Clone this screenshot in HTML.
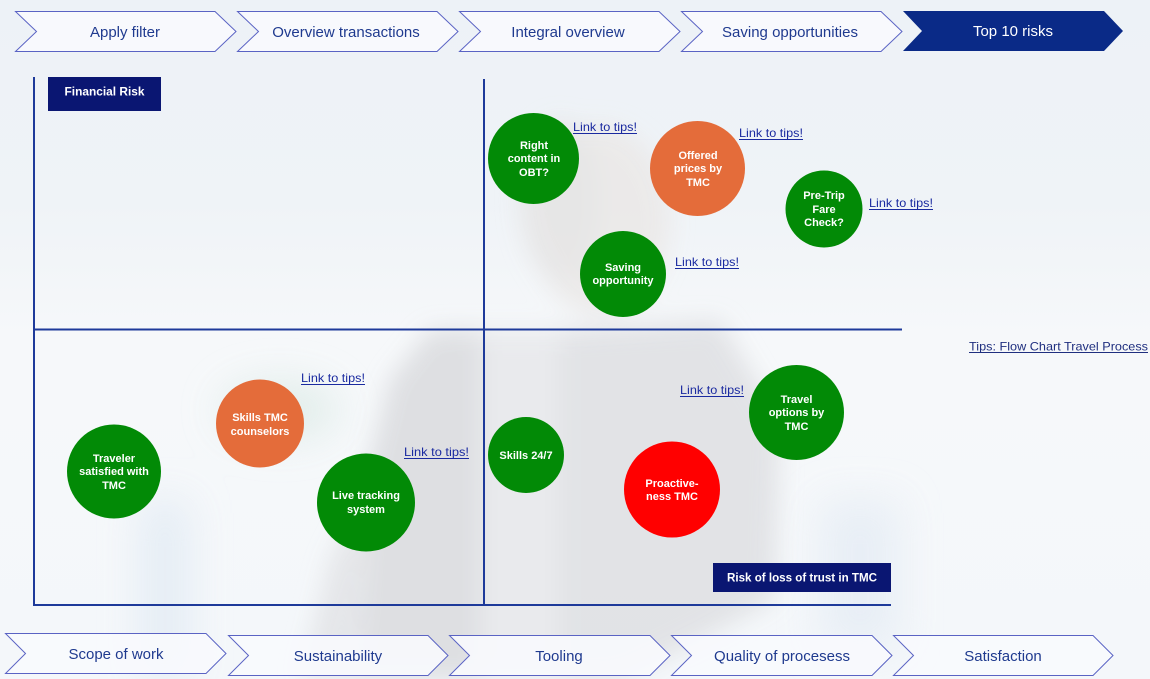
<!DOCTYPE html>
<html><head><meta charset="utf-8"><style>
html,body{margin:0;padding:0;width:1150px;height:679px;overflow:hidden;background:#f3f6f9}
svg{display:block}
</style></head><body>
<svg width="1150" height="679" viewBox="0 0 1150 679" xmlns="http://www.w3.org/2000/svg" font-family="Liberation Sans, Arial, sans-serif">
<defs>
<filter id="b20" x="-50%" y="-50%" width="200%" height="200%"><feGaussianBlur stdDeviation="20"/></filter>
<filter id="b12" x="-50%" y="-50%" width="200%" height="200%"><feGaussianBlur stdDeviation="12"/></filter>
<linearGradient id="bg" x1="0" y1="0" x2="0" y2="1">
<stop offset="0" stop-color="#edf2f7"/><stop offset="0.3" stop-color="#eff3f7"/><stop offset="0.5" stop-color="#f6f8fa"/><stop offset="1" stop-color="#f4f7fa"/>
</linearGradient>
</defs>
<!-- background photo approximation -->
<rect width="1150" height="679" fill="url(#bg)"/>
<g filter="url(#b20)" opacity="0.85">
<ellipse cx="280" cy="410" rx="60" ry="30" fill="#dfece8"/>
<rect x="140" y="500" width="50" height="180" fill="#e2ebf4"/>
<rect x="820" y="500" width="80" height="150" fill="#e6edf5"/>
</g>
<g filter="url(#b12)" opacity="0.9">
<ellipse cx="600" cy="220" rx="70" ry="95" fill="#ebe9e8"/>
<ellipse cx="560" cy="200" rx="40" ry="80" fill="#e6e5e5"/>
<path d="M360 679 L365 480 L390 380 L430 330 L480 330 L480 679 Z" fill="#dcdde0"/>
<path d="M480 330 L560 330 L560 679 L480 679 Z" fill="#e8e9ec"/>
<path d="M560 330 L720 320 L780 420 L775 600 L700 640 L620 679 L560 679 Z" fill="#e0e1e4"/>
<path d="M300 679 L330 560 L360 500 L360 679 Z" fill="#e3e4e7"/>
</g>

<!-- axes lines -->
<g stroke="#1e3a9a" stroke-width="2" fill="none">
<line x1="34" y1="77" x2="34" y2="606"/>
<line x1="484" y1="79" x2="484" y2="605"/>
<line x1="34" y1="329.5" x2="902" y2="329.5"/>
<line x1="33" y1="605" x2="891" y2="605"/>
</g>

<!-- top chevrons -->
<g fill="#f8fafd" fill-opacity="0.9" stroke="#5a63c4" stroke-width="1">
<path d="M15.5 11.5 L215 11.5 L236 31.5 L215 51.5 L15.5 51.5 L36.5 31.5 Z"/>
<path d="M237.5 11.5 L437 11.5 L458 31.5 L437 51.5 L237.5 51.5 L258.5 31.5 Z"/>
<path d="M459.5 11.5 L659 11.5 L680 31.5 L659 51.5 L459.5 51.5 L480.5 31.5 Z"/>
<path d="M681.5 11.5 L881 11.5 L902 31.5 L881 51.5 L681.5 51.5 L702.5 31.5 Z"/>
</g>
<path d="M903 11 L1104 11 L1123 31 L1104 51 L903 51 L922 31 Z" fill="#0a2a87"/>
<g font-size="15" fill="#1f3a8f" text-anchor="middle">
<text x="125" y="37">Apply filter</text>
<text x="346" y="37">Overview transactions</text>
<text x="568" y="37">Integral overview</text>
<text x="790" y="37">Saving opportunities</text>
<text x="1013" y="36" fill="#ffffff">Top 10 risks</text>
</g>

<!-- bottom chevrons -->
<g fill="#f8fafd" fill-opacity="0.9" stroke="#5a63c4" stroke-width="1">
<path d="M5.5 633.5 L206 633.5 L226 653.5 L206 673.5 L5.5 673.5 L25.5 653.5 Z"/>
<path d="M228.5 635.5 L428 635.5 L448 655.5 L428 675.5 L228.5 675.5 L248.5 655.5 Z"/>
<path d="M449.5 635.5 L650 635.5 L670 655.5 L650 675.5 L449.5 675.5 L469.5 655.5 Z"/>
<path d="M671.5 635.5 L872 635.5 L892 655.5 L872 675.5 L671.5 675.5 L691.5 655.5 Z"/>
<path d="M893.5 635.5 L1093 635.5 L1113 655.5 L1093 675.5 L893.5 675.5 L913.5 655.5 Z"/>
</g>
<g font-size="15" fill="#1f3a8f" text-anchor="middle">
<text x="116" y="659">Scope of work</text>
<text x="338" y="661">Sustainability</text>
<text x="559" y="661">Tooling</text>
<text x="782" y="661">Quality of procesess</text>
<text x="1003" y="661">Satisfaction</text>
</g>

<!-- label boxes -->
<rect x="48" y="77" width="113" height="34" fill="#0a1672"/>
<text x="104.5" y="95.5" font-size="12" font-weight="bold" fill="#fff" text-anchor="middle" textLength="80" lengthAdjust="spacingAndGlyphs">Financial Risk</text>
<rect x="713" y="563" width="178" height="29" fill="#0a1672"/>
<text x="802" y="581.5" font-size="12" font-weight="bold" fill="#fff" text-anchor="middle" textLength="150" lengthAdjust="spacingAndGlyphs">Risk of loss of trust in TMC</text>

<!-- circles -->
<circle cx="533.5" cy="158.5" r="45.5" fill="#028a06"/>
<circle cx="697.5" cy="168.5" r="47.5" fill="#e46c3a"/>
<circle cx="824" cy="209" r="38.5" fill="#028a06"/>
<circle cx="623" cy="274" r="43" fill="#028a06"/>
<circle cx="260" cy="423.5" r="44" fill="#e46c3a"/>
<circle cx="114" cy="471.5" r="47" fill="#028a06"/>
<circle cx="366" cy="502.5" r="49" fill="#028a06"/>
<circle cx="526" cy="455" r="38" fill="#028a06"/>
<circle cx="672" cy="489.5" r="48" fill="#ff0000"/>
<circle cx="796.5" cy="412.5" r="47.5" fill="#028a06"/>

<g font-size="11" font-weight="bold" fill="#fff" text-anchor="middle">
<text x="534" y="149">Right</text><text x="534" y="162">content in</text><text x="534" y="176">OBT?</text>
<text x="698" y="159">Offered</text><text x="698" y="172">prices by</text><text x="698" y="186">TMC</text>
<text x="824" y="199">Pre-Trip</text><text x="824" y="213">Fare</text><text x="824" y="226">Check?</text>
<text x="623" y="271">Saving</text><text x="623" y="284">opportunity</text>
<text x="260" y="421">Skills TMC</text><text x="260" y="435">counselors</text>
<text x="114" y="462">Traveler</text><text x="114" y="475">satisfied with</text><text x="114" y="489">TMC</text>
<text x="366" y="499">Live tracking</text><text x="366" y="513">system</text>
<text x="526" y="459">Skills 24/7</text>
<text x="672" y="487">Proactive-</text><text x="672" y="500">ness TMC</text>
<text x="796.5" y="403">Travel</text><text x="796.5" y="416">options by</text><text x="796.5" y="430">TMC</text>
</g>

<!-- links -->
<g font-size="12" fill="#1a2aa0">
<text x="573" y="131" textLength="64" lengthAdjust="spacingAndGlyphs">Link to tips!</text>
<text x="739" y="137" textLength="64" lengthAdjust="spacingAndGlyphs">Link to tips!</text>
<text x="869" y="207" textLength="64" lengthAdjust="spacingAndGlyphs">Link to tips!</text>
<text x="675" y="266" textLength="64" lengthAdjust="spacingAndGlyphs">Link to tips!</text>
<text x="301" y="382" textLength="64" lengthAdjust="spacingAndGlyphs">Link to tips!</text>
<text x="404" y="456" textLength="65" lengthAdjust="spacingAndGlyphs">Link to tips!</text>
<text x="680" y="394" textLength="64" lengthAdjust="spacingAndGlyphs">Link to tips!</text>
<text x="969" y="350.5" fill="#1f2f7f" textLength="179" lengthAdjust="spacingAndGlyphs">Tips: Flow Chart Travel Process</text>
</g>
<g stroke="#1a2aa0" stroke-width="1">
<line x1="573" y1="133.5" x2="637" y2="133.5"/>
<line x1="739" y1="139.5" x2="803" y2="139.5"/>
<line x1="869" y1="209.5" x2="933" y2="209.5"/>
<line x1="675" y1="268.5" x2="739" y2="268.5"/>
<line x1="301" y1="384.5" x2="365" y2="384.5"/>
<line x1="404" y1="458.5" x2="469" y2="458.5"/>
<line x1="680" y1="396.5" x2="744" y2="396.5"/>
<line x1="969" y1="352.5" x2="1148" y2="352.5" stroke="#1f2f7f"/>
</g>
</svg>
</body></html>
